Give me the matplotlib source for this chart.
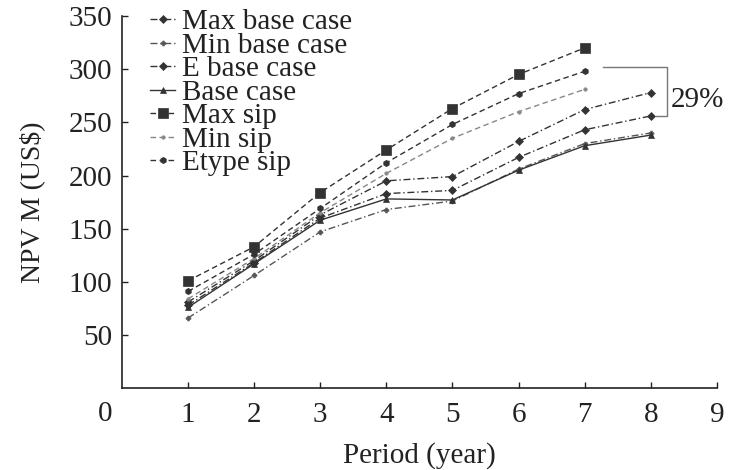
import numpy as np
import matplotlib.pyplot as plt

plt.rcParams["font.family"] = ["Liberation Serif", "DejaVu Serif"]

# data
periods_base = [1, 2, 3, 4, 5, 6, 7, 8]
periods_sip = [1, 2, 3, 4, 5, 6, 7]

max_base = [81, 120, 163, 195, 199, 232, 262, 278]
min_base = [66, 106, 147, 168, 176, 206, 230, 240]
e_base = [78, 118, 160, 183, 186, 217, 243, 256]
base_case = [76, 117, 158, 178, 177, 205, 228, 238]
max_sip = [101, 133, 184, 224, 263, 295, 320]
min_sip = [84, 122, 165, 202, 235, 260, 281]
etype_sip = [91, 126, 169, 212, 248, 277, 298]

series = [
    ("Max base case", periods_base, max_base, dict(ls=(0, (5, 2, 1, 2)), marker="D", ms=4.5, color="#333333")),
    ("Min base case", periods_base, min_base, dict(ls=(0, (5, 2, 1, 2)), marker="P", ms=3.5, color="#555555")),
    ("E base case", periods_base, e_base, dict(ls=(0, (5, 2, 1, 2)), marker="D", ms=4, color="#333333")),
    ("Base case", periods_base, base_case, dict(ls="-", marker="^", ms=4.5, color="#333333")),
    ("Max sip", periods_sip, max_sip, dict(ls=(0, (4, 2.5)), marker="s", ms=6.5, color="#333333")),
    ("Min sip", periods_sip, min_sip, dict(ls=(0, (4, 2.5)), marker="o", ms=2.5, color="#888888")),
    ("Etype sip", periods_sip, etype_sip, dict(ls=(0, (4, 2.5)), marker="h", ms=4.5, color="#333333")),
]

FS = 21
txt = "#222222"

fig = plt.figure(figsize=(7.3, 4.7), dpi=100)
ax = fig.add_axes([0.167, 0.174, 0.815, 0.792])

for label, x, y, style in series:
    ax.plot(x, y, label=label, lw=1.0, markeredgewidth=0.5, **style)

ax.set_xlim(0, 9)
ax.set_ylim(0, 350)
ax.set_xticks(np.arange(1, 10))
ax.set_yticks(np.arange(50, 351, 50))
ax.tick_params(direction="in", length=4, width=1, labelsize=FS, colors=txt)
ax.tick_params(axis="x", pad=10)
ax.tick_params(axis="y", pad=7)
for side in ["top", "right"]:
    ax.spines[side].set_visible(False)
for side in ["left", "bottom"]:
    ax.spines[side].set_linewidth(1.2)
    ax.spines[side].set_color(txt)

# shared origin label
ax.text(-0.25, -24, "0", fontsize=FS, ha="center", va="center", clip_on=False, color=txt)

ax.set_xlabel("Period (year)", fontsize=FS, labelpad=10, color=txt)
ax.set_ylabel("NPV M (US\\$)", fontsize=20, labelpad=17, color=txt)

# 29% bracket between Etype sip (period 7) and E base case (period 8)
top = etype_sip[-1] + 4
bot = e_base[-1]
ax.plot([7.28, 8.24, 8.24, 8.08], [top, top, bot, bot], color="#777777", lw=1.0)
ax.text(8.3, (top + bot) / 2 - 8, "29%", fontsize=FS, va="center", ha="left", color=txt)

leg = ax.legend(loc="upper left", bbox_to_anchor=(0.028, 1.05), frameon=False, fontsize=FS,
                handlelength=0.85, handletextpad=0.25, labelspacing=-0.1, borderaxespad=0)
for t in leg.get_texts():
    t.set_color(txt)

fig.savefig("out.png", dpi=100)
